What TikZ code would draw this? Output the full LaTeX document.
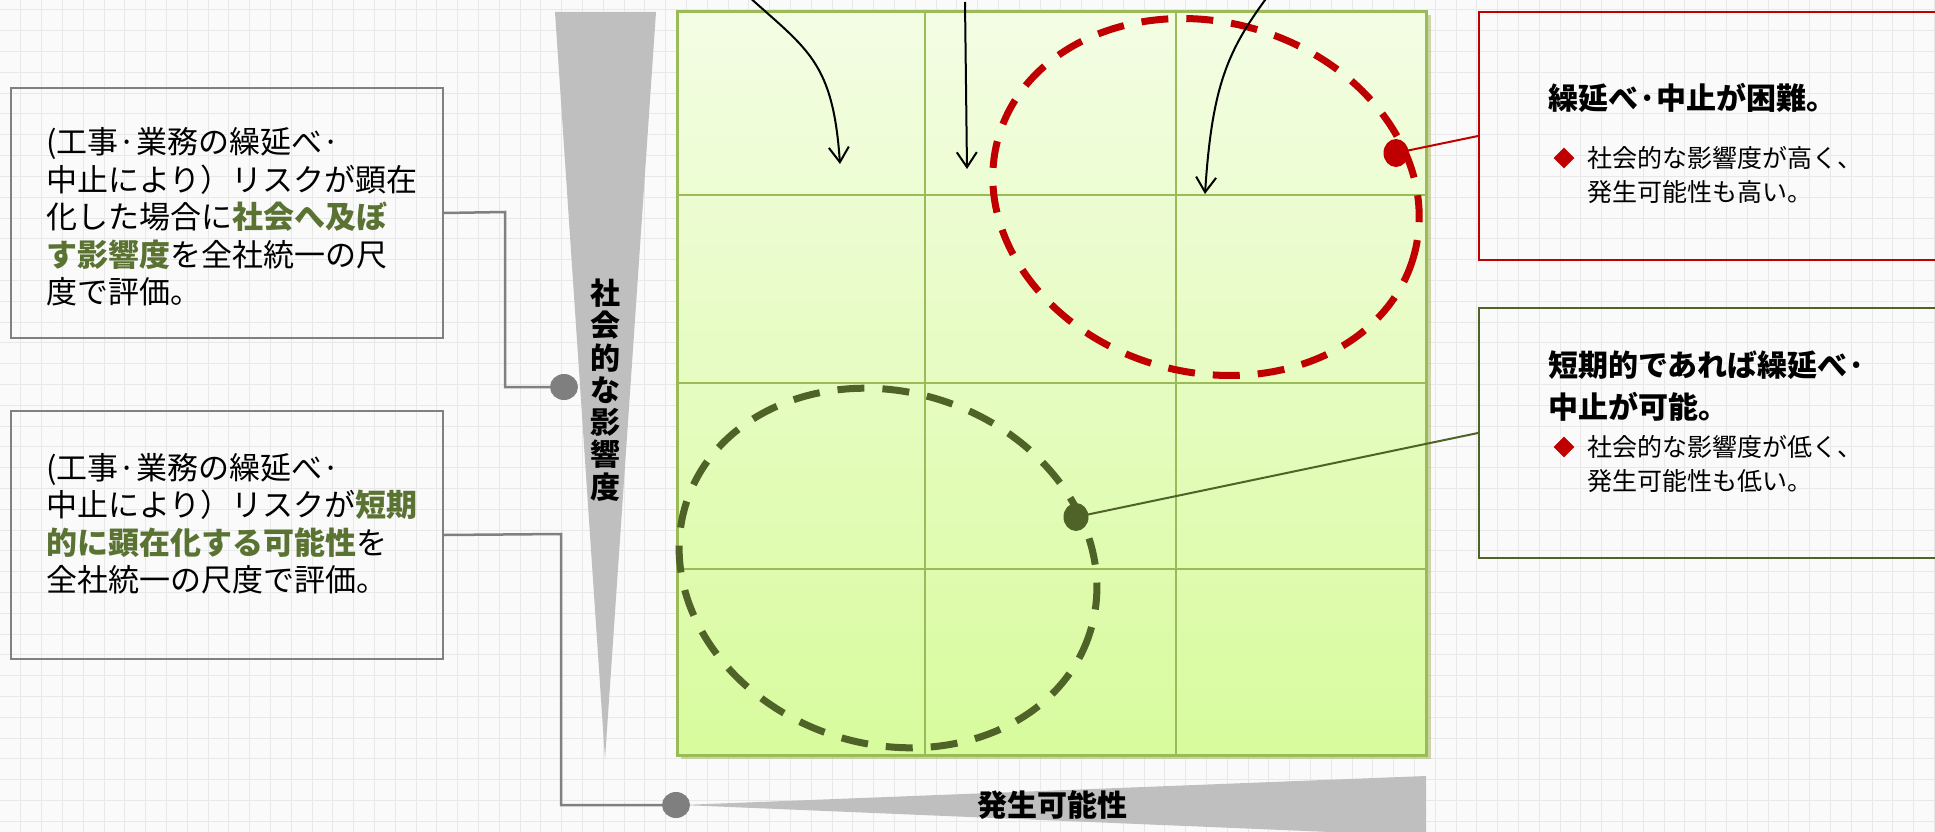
\documentclass[tikz,border=0pt]{standalone}
\usepackage{fontspec}
\newfontfamily\jp{Noto Sans CJK JP}
\usetikzlibrary{arrows.meta,shapes.geometric}
\definecolor{bgc}{HTML}{FAFAFA}
\definecolor{gridc}{HTML}{E8E8E8}
\definecolor{mattop}{HTML}{F3FDE4}
\definecolor{matbot}{HTML}{D8FB9D}
\definecolor{matborder}{HTML}{9BBB59}
\definecolor{shadowc}{HTML}{A9B865}
\definecolor{trigray}{HTML}{BFBFBF}
\definecolor{dotgray}{HTML}{7F7F7F}
\definecolor{boxgray}{HTML}{808080}
\definecolor{redc}{HTML}{C00000}
\definecolor{olivec}{HTML}{4F6228}
\definecolor{hlc}{HTML}{5A7232}
\newcommand\hlt[1]{\textcolor{hlc}{\bfseries #1}}
\tikzset{
  gridline/.style={gridc, line width=1pt},
  matbox/.style={draw=matborder, line width=3pt, top color=mattop, bottom color=matbot, inner sep=0pt, anchor=north west},
  matline/.style={matborder, line width=2pt},
  ellred/.style={redc, line width=7pt, dash pattern=on 27pt off 18pt},
  ellgreen/.style={olivec, line width=7pt, dash pattern=on 27pt off 18pt},
  leftbox/.style={draw=boxgray, line width=2pt, inner sep=0pt, anchor=north west, minimum width=432pt},
  redbox/.style={draw=redc, line width=2pt, inner sep=0pt, anchor=north west, minimum width=480pt},
  greenbox/.style={draw=olivec, line width=2pt, inner sep=0pt, anchor=north west, minimum width=480pt},
  conn/.style={boxgray, line width=2.5pt},
  gdot/.style={ellipse, fill=dotgray, minimum width=28pt, minimum height=26pt, inner sep=0pt},
  rdotst/.style={ellipse, fill=redc, minimum width=25pt, minimum height=28pt, inner sep=0pt},
  odotst/.style={ellipse, fill=olivec, minimum width=25pt, minimum height=28pt, inner sep=0pt},
  arr/.style={black, line width=2pt, -{Straight Barb[length=15pt,width=20pt,line width=2pt]}},
  lefttext/.style={anchor=west, align=left, inner sep=0pt, font=\jp\fontsize{31}{37.5}\selectfont},
  titletext/.style={anchor=west, align=left, inner sep=0pt, font=\jp\bfseries\fontsize{30}{42}\selectfont},
  bullettext/.style={anchor=west, align=left, inner sep=0pt, font=\jp\fontsize{25}{34}\selectfont},
  bullet/.style={diamond, fill=redc, inner sep=0pt, minimum size=21pt},
  axistext/.style={align=center, inner sep=0pt, font=\jp\bfseries\fontsize{30}{32.3}\selectfont},
}
\begin{document}
\begin{tikzpicture}[x=1pt,y=-1pt]
\useasboundingbox (0,0) rectangle (1935,832);
% background
\fill[bgc] (0,0) rectangle (1935,832);
\foreach \i in {1,...,93} \draw[gridline] (\i*20.8,0) -- (\i*20.8,832);
\foreach \j in {0,...,40} \draw[gridline] (0,10+\j*20.8) -- (1935,10+\j*20.8);

% axis triangles
\fill[trigray] (555,12) -- (656,12) -- (605,759) -- cycle;
\fill[trigray] (682,805) -- (1426,776) -- (1426,836) -- cycle;
\node[axistext] (vlab) at (605,390) {社\\会\\的\\な\\影\\響\\度};
\node[axistext] (hlab) at (1052,805) {発生可能性};

% matrix
\fill[shadowc, opacity=0.55] (681,15) rectangle (1431,759);
\node[matbox, minimum width=749pt, minimum height=744pt] (mat) at (676,10) {};
\draw[matline] (925,10) -- (925,754);
\draw[matline] (1176,10) -- (1176,754);
\draw[matline] (676,195) -- (1425,195);
\draw[matline] (676,383) -- (1425,383);
\draw[matline] (676,569) -- (1425,569);

% ellipses
\draw[ellred, rotate around={-16:(1206,197)}] (1206,197) ellipse [x radius=216, y radius=175];
\draw[ellgreen, rotate around={-18:(888,568)}] (888,568) ellipse [x radius=212, y radius=176];

% arrows
\coordinate (a1s) at (748,-4);
\coordinate (a1e) at (840,164);
\coordinate (a2s) at (965,2);
\coordinate (a2e) at (967,169);
\coordinate (a3s) at (1268,-4);
\coordinate (a3e) at (1205,194);
\draw[arr] (a1s) .. controls (808,50) and (833,62) .. (a1e);
\draw[arr] (a2s) -- (a2e);
\draw[arr] (a3s) .. controls (1228,50) and (1212,85) .. (a3e);

% left boxes
\node[leftbox, minimum height=250pt] (box1) at (10,87) {};
\node[leftbox, minimum height=248pt] (box2) at (10,410) {};
\node[lefttext] (t1) at (46,217) {(工事·業務の繰延べ·\\中止により）リスクが顕在\\化した場合に\hlt{社会へ及ぼ}\\\hlt{す影響度}を全社統一の尺\\度で評価。};
\node[lefttext] (t2) at (46,524) {(工事·業務の繰延べ·\\中止により）リスクが\hlt{短期}\\\hlt{的に顕在化する可能性}を\\全社統一の尺度で評価。};

% gray dots and connectors
\node[gdot] (dot1) at (564,387) {};
\node[gdot] (dot2) at (676,805) {};
\draw[conn] (box1.east) -- (505,212) |- (dot1);
\draw[conn] (box2.east) -- (561,534) |- (dot2);

% right boxes
\node[redbox, minimum height=248pt] (rbox) at (1478,11) {};
\node[greenbox, minimum height=250pt] (gbox) at (1478,307) {};
\node[titletext] (rtitle) at (1548,98) {繰延べ·中止が困難。};
\node[bullet] (rb) at (1564,158) {};
\node[bullettext] (rtext) at (1587,175) {社会的な影響度が高く、\\発生可能性も高い。};
\node[titletext] (gtitle) at (1548,386) {短期的であれば繰延べ·\\中止が可能。};
\node[bullet] (gb) at (1564,447) {};
\node[bullettext] (gtext) at (1587,463.5) {社会的な影響度が低く、\\発生可能性も低い。};

% colored dots and leaders
\draw[redc, line width=2pt] (rbox.west) -- (1396,153);
\draw[olivec, line width=2pt] (gbox.west) -- (1076,517);
\node[rdotst] (rdot) at (1396,153) {};
\node[odotst] (odot) at (1076,517) {};
\end{tikzpicture}
\end{document}
